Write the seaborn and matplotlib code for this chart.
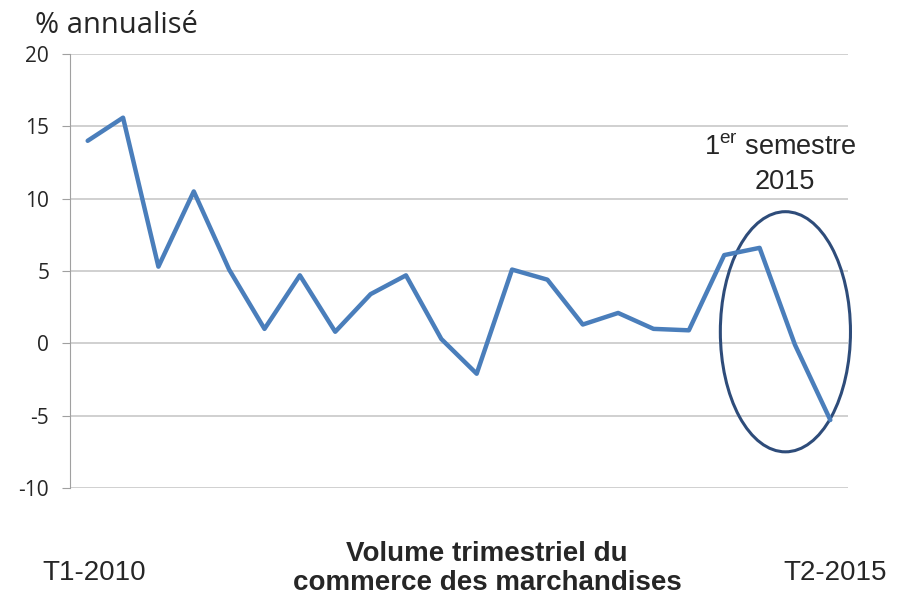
import numpy as np
import pandas as pd
import matplotlib.pyplot as plt
import seaborn as sns
from matplotlib.patches import Ellipse

# Data: quarterly annualised growth, T1-2010 .. T2-2015
quarters = [f"T{q}-{y}" for y in range(2010, 2016) for q in range(1, 5)][:22]
growth = [14.0, 15.6, 5.3, 10.5, 5.1, 1.0, 4.7, 0.8, 3.4, 4.7, 0.3,
          -2.1, 5.1, 4.4, 1.3, 2.1, 1.0, 0.9, 6.1, 6.6, -0.1, -5.3]
y_ticks = [-10, -5, 0, 5, 10, 15, 20]

df = pd.DataFrame({'pos': range(len(quarters)), 'trimestre': quarters, 'croissance': growth})

sns.set_style('white')
plt.rcParams['font.family'] = ['Liberation Sans', 'DejaVu Sans']
plt.rcParams['mathtext.fontset'] = 'custom'
plt.rcParams['mathtext.rm'] = 'Liberation Sans'

fig = plt.figure(figsize=(9, 5.96), dpi=100)
ax = fig.add_axes([70 / 900, 1 - 488 / 596, 778 / 900, 434 / 596])

sns.lineplot(data=df, x='pos', y='croissance', ax=ax, color='#4A7EBB', linewidth=3.2)

ax.set_xlim(-0.5, len(quarters) - 0.5)
ax.set_ylim(-10, 20)
ax.set_yticks(y_ticks)
ax.set_yticklabels([str(v) for v in y_ticks], fontsize=15, family=['Open Sans', 'DejaVu Sans'])
ax.set_xticks([])
ax.grid(axis='y', color='#C4C4C4', linewidth=1.1)
ax.set_axisbelow(True)
ax.set_xlabel('')
ax.set_ylabel('')
for side in ['top', 'right', 'bottom']:
    ax.spines[side].set_visible(False)
ax.spines['left'].set_color('#A0A0A0')
ax.tick_params(axis='y', length=6, color='#A0A0A0', left=True, pad=9)

# highlight first half of 2015
ax.add_patch(Ellipse((19.73, 0.8), 3.68, 16.6, fill=False, edgecolor='#2E4C7A',
                     linewidth=2.2, clip_on=False))
ax.text(19.6, 13.1, '1$^{\\mathrm{er}}$ semestre', ha='center', va='baseline', fontsize=19.5)
ax.text(19.7, 10.7, '2015', ha='center', va='baseline', fontsize=19.5)

fig.text(35 / 900, 1 - 33 / 596, '% annualisé', fontsize=21,
         family=['Open Sans', 'DejaVu Sans'], va='baseline')
fig.text(94 / 900, 1 - 580 / 596, quarters[0], fontsize=20, ha='center', va='baseline')
fig.text(835 / 900, 1 - 580 / 596, quarters[-1], fontsize=20, ha='center', va='baseline')
fig.text(487 / 900, 1 - 561 / 596, 'Volume trimestriel du', fontsize=20,
         fontweight='bold', ha='center', va='baseline')
fig.text(487 / 900, 1 - 590 / 596, 'commerce des marchandises', fontsize=20,
         fontweight='bold', ha='center', va='baseline')

fig.savefig('out.png', dpi=100)
